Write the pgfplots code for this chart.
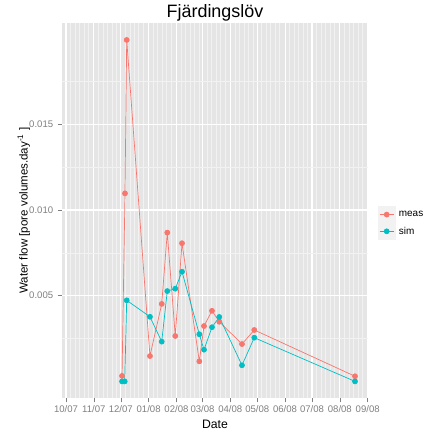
\documentclass[border=0pt]{standalone}
\usepackage{fontspec}
\setmainfont{Liberation Sans}
\usepackage{pgfplots}
\pgfplotsset{compat=1.18}
\definecolor{meas}{HTML}{F8766D}
\definecolor{sim}{HTML}{00BFC4}
\definecolor{panel}{HTML}{E5E5E5}
\definecolor{minorgrid}{HTML}{F2F2F2}
\definecolor{ticklab}{HTML}{7F7F7F}
\begin{document}
\begin{tikzpicture}
\path[use as bounding box] (-61.7bp,-32.7bp) rectangle (363.3bp,398.3bp);
\begin{axis}[
  at={(0,0)}, anchor=south west,
  scale only axis, width=306.6bp, height=375.3bp,
  xmin=-4.8, xmax=336.7, ymin=-0.000986, ymax=0.02091,
  axis background/.style={fill=panel},
  axis line style={draw=none},
  xtick={0,31,61,92,123,152,183,213,244,274,305,336},
  xticklabels={10/07,11/07,12/07,01/08,02/08,03/08,04/08,05/08,06/08,07/08,08/08,09/08},
  minor xtick={5,10,15,20,25,36,41,46,51,56,66,71,76,81,86,97,102,107,112,117,128,133,138,143,148,157,162,167,172,177,188,193,198,203,208,218,223,228,233,238,249,254,259,264,269,279,284,289,294,299,310,315,320,325,330},
  ytick={0.005,0.01,0.015},
  yticklabels={0.005,0.010,0.015},
  minor ytick={0.0025,0.0075,0.0125,0.0175},
  scaled y ticks=false,
  grid=both,
  major grid style={white, line width=1.1bp},
  minor grid style={minorgrid, line width=0.5bp},
  tick align=outside, tick pos=left,
  major tick length=4bp, minor tick length=0pt,
  tick style={ticklab, line width=0.5bp},
  ticklabel style={font=\fontsize{9.6}{11}\selectfont, text=ticklab},
  yticklabel style={xshift=-1bp},
  xlabel={Date},
  every axis x label/.style={at={(axis description cs:0.5,0)}, anchor=base, yshift=-30.5bp, font=\fontsize{12.3}{14}\selectfont},
  ylabel={Water flow [pore volumes.day\textsuperscript{-1} ]},
  every axis y label/.style={at={(axis description cs:-0.1115,0.5)}, rotate=90, anchor=base, font=\fontsize{11.6}{14}\selectfont},
  title={Fjärdingslöv},
  every axis title/.style={at={(axis description cs:0.5,1)}, anchor=base, yshift=5bp, font=\fontsize{18}{20}\selectfont},
  legend style={at={(axis description cs:1,0.5)}, anchor=west, xshift=9bp, yshift=-12.3bp,
    draw=none, fill=none, inner sep=0pt, row sep=0pt, column sep=1pt,
    font=\fontsize{10}{11}\selectfont, cells={anchor=west}},
  legend image code/.code={
    \fill[minorgrid] (0bp,-8bp) rectangle (17.7bp,8bp);
    \draw[mark repeat=2,mark phase=2,#1] plot coordinates {(1.7bp,0bp) (8.85bp,0bp) (16bp,0bp)};
  },
]
\addplot[meas, line width=0.7bp, mark=*, mark size=2.5bp, mark options={draw=none, fill=meas}] coordinates {
(62.4,0.00032)
(65.7,0.01097)
(67.6,0.01992)
(93.5,0.00148)
(106.6,0.00452)
(112.8,0.00868)
(121.7,0.00265)
(129.2,0.00806)
(148.5,0.00117)
(153.7,0.00323)
(162.6,0.00412)
(170.7,0.00348)
(196.0,0.00218)
(209.7,0.00300)
(321.9,0.00030)
};
\addlegendentry{meas}
\addplot[sim, line width=0.7bp, mark=*, mark size=2.5bp, mark options={draw=none, fill=sim}] coordinates {
(62.4,0.00000)
(65.4,0.00000)
(67.6,0.00473)
(93.5,0.00377)
(106.6,0.00232)
(112.8,0.00527)
(121.7,0.00541)
(129.2,0.00640)
(148.5,0.00275)
(153.7,0.00185)
(162.6,0.00316)
(170.7,0.00376)
(196.0,0.00094)
(209.7,0.00255)
(321.9,0.00000)
};
\addlegendentry{sim}
\end{axis}
\end{tikzpicture}
\end{document}
